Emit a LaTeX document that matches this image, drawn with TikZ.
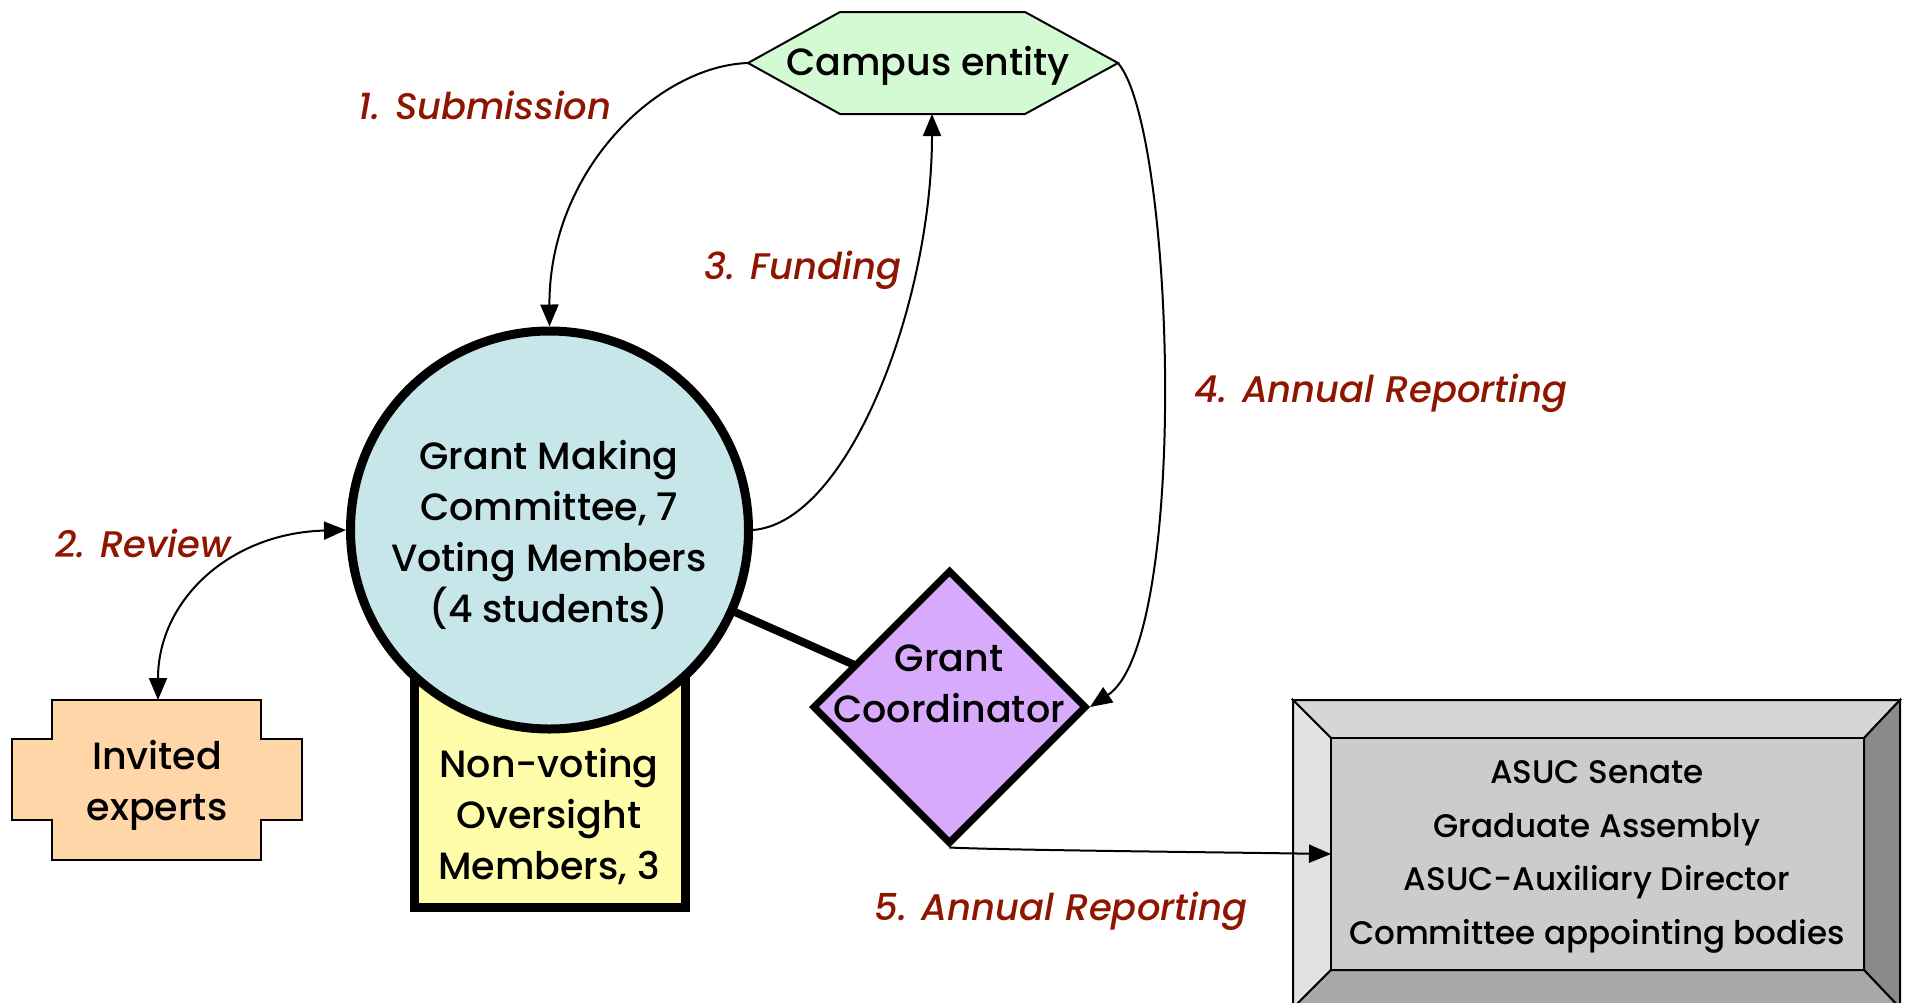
\documentclass[tikz,border=0pt]{standalone}
\usepackage{fontspec}
\setmainfont{Poppins}
\IfFontExistsTF{Poppins Medium Italic}
  {\newfontfamily\lblfont{Poppins Medium Italic}}
  {\newfontfamily\lblfont{Poppins Italic}[FakeBold=1]}
\IfFontExistsTF{Poppins Medium}
  {\newfontfamily\txtfont{Poppins Medium}}
  {\newfontfamily\txtfont{Poppins}}
\usetikzlibrary{arrows.meta,shapes.geometric}
\definecolor{hexgreen}{RGB}{212,250,212}
\definecolor{circblue}{RGB}{198,230,233}
\definecolor{ylw}{RGB}{255,252,170}
\definecolor{peach}{RGB}{255,214,168}
\definecolor{lilac}{RGB}{215,170,252}
\definecolor{lblred}{RGB}{142,22,0}
\definecolor{bvtop}{RGB}{214,214,214}
\definecolor{bvleft}{RGB}{226,226,226}
\definecolor{bvright}{RGB}{138,138,138}
\definecolor{bvbot}{RGB}{168,168,168}
\definecolor{bvin}{RGB}{204,204,204}
\tikzset{
  maintext/.style={font=\txtfont\fontsize{19}{25.5}\selectfont, align=center, inner sep=0pt},
  boxtext/.style={font=\txtfont\fontsize{16.3}{26.8}\selectfont, align=center, inner sep=0pt},
  lbl/.style={font=\lblfont\fontsize{18.5}{23}\selectfont, text=lblred, inner sep=0pt},
  conn/.style={line width=1pt, -{Triangle[length=11pt,width=9pt]}},
  thin/.style={line width=1pt},
  bevel/.style={line width=1pt, draw=black},
}
\begin{document}
\begin{tikzpicture}[x=0.5pt,y=-0.5pt]
\useasboundingbox (0,0) rectangle (1910,1002);

% Campus entity hexagon
\filldraw[thin, fill=hexgreen] (748,63) -- (840,12) -- (1025,12) -- (1118,63) -- (1025,114) -- (840,114) -- cycle;
\coordinate (hexL) at (748,63);
\coordinate (hexR) at (1118,63);
\coordinate (hexB) at (932,114);
\node[maintext] (campus) at (928,66) {Campus entity};

% Invited experts cross
\filldraw[thin, fill=peach] (52,700) -- (261,700) -- (261,739) -- (302,739) -- (302,820) -- (261,820) -- (261,860) -- (52,860) -- (52,820) -- (12,820) -- (12,739) -- (52,739) -- cycle;
\coordinate (exptop) at (158,700);
\node[maintext] (experts) at (157,785) {Invited\\experts};

% Non-voting rectangle
\node[draw, line width=4.5pt, fill=ylw, minimum width=135.5pt, minimum height=133pt, inner sep=0pt] (nonvote) at (550,774) {};
\node[maintext] (nonvotetext) at (549,816) {Non-voting\\Oversight\\Members, 3};

% Grant making committee circle
\node[circle, draw, line width=4.5pt, fill=circblue, minimum size=199pt, inner sep=0pt] (circ) at (549.5,530) {};
\node[maintext] (circtext) at (549,535) {Grant Making\\Committee, 7\\Voting Members\\(4 students)};

% Grant coordinator diamond
\draw[line width=4pt] (circ) -- (949.5,707);
\node[diamond, draw, line width=3.5pt, fill=lilac, minimum width=137pt, minimum height=137pt, inner sep=0pt] (diam) at (949.5,707) {};
\node[maintext] (diamtext) at (949,684) {Grant\\Coordinator};

% ASUC bevel box
\coordinate (oTL) at (1293,700);
\coordinate (oTR) at (1900,700);
\coordinate (oBR) at (1900,1008);
\coordinate (oBL) at (1293,1008);
\coordinate (iTL) at (1331,738);
\coordinate (iTR) at (1864,738);
\coordinate (iBR) at (1864,970);
\coordinate (iBL) at (1331,970);
\filldraw[bevel, fill=bvtop] (oTL) -- (oTR) -- (iTR) -- (iTL) -- cycle;
\filldraw[bevel, fill=bvleft] (oTL) -- (iTL) -- (iBL) -- (oBL) -- cycle;
\filldraw[bevel, fill=bvright] (oTR) -- (oBR) -- (iBR) -- (iTR) -- cycle;
\filldraw[bevel, fill=bvbot] (oBL) -- (iBL) -- (iBR) -- (oBR) -- cycle;
\node[draw, line width=1pt, fill=bvin, minimum width=266.5pt, minimum height=116pt, inner sep=0pt, outer sep=0pt] (asuc) at (1597.5,854) {};
\node[boxtext] (asuctext) at (1597,857) {ASUC Senate\\Graduate Assembly\\ASUC-Auxiliary Director\\Committee appointing bodies};

% connectors
\draw[conn] (hexL) .. controls (658,66) and (549,170) .. (circ.north);
\draw[line width=1pt, {Triangle[length=11pt,width=9pt]}-{Triangle[length=11pt,width=9pt]}] (exptop) .. controls (158,600) and (230,533) .. (circ.west);
\draw[conn] (circ.east) .. controls (850,522) and (932,300) .. (hexB);
\draw[conn] (hexR) .. controls (1175,130) and (1190,640) .. (diam.east);
\draw[conn] (diam.south) .. controls (1000,850) and (1200,852) .. (asuc.west);

% labels
\node[lbl] (l1) at (485,105) {1. Submission};
\node[lbl] (l2) at (143,543) {2. Review};
\node[lbl] (l3) at (803,270) {3. Funding};
\node[lbl] (l4) at (1381,393) {4. Annual Reporting};
\node[lbl] (l5) at (1061,911) {5. Annual Reporting};
\end{tikzpicture}
\end{document}
